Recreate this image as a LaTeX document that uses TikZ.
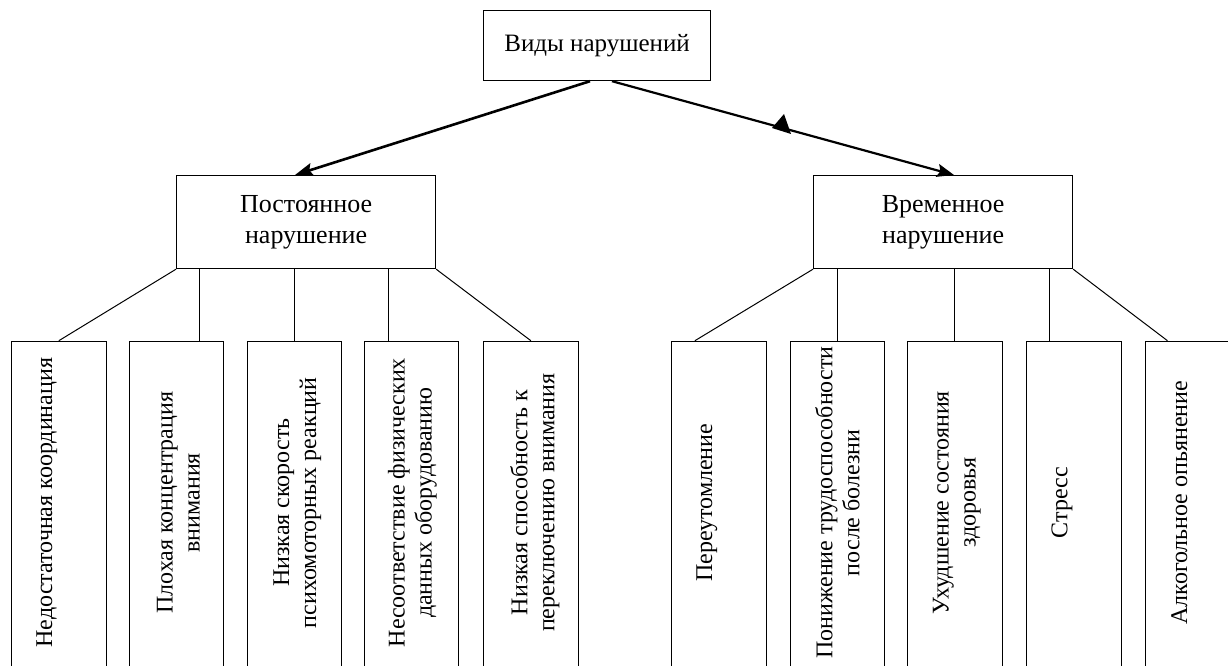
\documentclass[tikz,border=0pt]{standalone}
\usepackage{fontspec}
\setmainfont{Liberation Serif}
\usetikzlibrary{arrows.meta,calc}
\begin{document}
\begin{tikzpicture}[x=1pt,y=-1pt,
  box/.style={draw, line width=1.2pt, inner sep=0pt, anchor=north west},
  midbox/.style={box, minimum width=259pt, minimum height=93pt, align=center, font=\fontsize{26}{31}\selectfont},
  leaf/.style={box, minimum width=94.5pt, minimum height=345pt},
  leaftext/.style={rotate=90, align=center, inner sep=0pt, font=\fontsize{24}{27}\selectfont},
  conn/.style={line width=1pt},
  bigarrow/.style={line width=2.6pt, -{Stealth[length=18pt,width=13pt,inset=3pt]}},
  medarrow/.style={line width=2.2pt, -{Stealth[length=17pt,width=13pt,inset=3pt]}}
]
\useasboundingbox (0,0) rectangle (1228,666);
\clip (0,0) rectangle (1228,666);
\fill[white] (0,0) rectangle (1228,666);

% top
\node[box, minimum width=227pt, minimum height=70pt, font=\fontsize{25}{30}\selectfont] (top) at (483,10) {Виды нарушений};

% middle
\node[midbox] (perm) at (176,175) {Постоянное\\нарушение};
\node[midbox] (temp) at (813,175) {Временное\\нарушение};

% arrows
\draw[bigarrow] ($(top.south west)+(107,0)$) -- ($(perm.north west)+(119,0)$);
\draw[medarrow] ($(top.south west)+(129,0)$) -- ($(temp.north west)+(141,0)$);
\fill (784,114) -- (772,128) -- (791,134) -- cycle;

% leaves
\foreach \n/\x in {b1/11, b2/128.5, b3/246.5, b4/363.5, b5/483, b6/671, b7/789.5, b8/907, b9/1026, b10/1144.5}
  \node[leaf] (\n) at (\x,340.7) {};

% leaf texts
\node[leaftext] (t1) at ($(b1.north)+(-12,162)$) {Недостаточная координация};
\node[leaftext] (t2) at ($(b2.north)+(2,162)$) {Плохая концентрация\\внимания};
\node[leaftext] (t3) at ($(b3.north)+(3,162)$) {Низкая скорость\\психомоторных реакций};
\node[leaftext] (t4) at ($(b4.north)+(1,162)$) {Несоответствие физических\\данных оборудованию};
\node[leaftext] (t5) at ($(b5.north)+(4,162)$) {Низкая способность к\\переключению внимания};
\node[leaftext] (t6) at ($(b6.north)+(-12,162)$) {Переутомление};
\node[leaftext] (t7) at ($(b7.north)+(0,162)$) {Понижение трудоспособности\\после болезни};
\node[leaftext] (t8) at ($(b8.north)+(2,162)$) {Ухудшение состояния\\здоровья};
\node[leaftext] (t9) at ($(b9.north)+(-12,162)$) {Стресс};
\node[leaftext] (t10) at ($(b10.north)+(-13,162)$) {Алкогольное опьянение};

% connectors left
\draw[conn] (perm.south west) -- (b1.north);
\coordinate (p2) at ($(perm.south west)+(23.3,0)$);
\coordinate (p3) at ($(perm.south west)+(118,0)$);
\coordinate (p4) at ($(perm.south west)+(212.5,0)$);
\draw[conn] (p2) -- (p2 |- b2.north);
\draw[conn] (p3) -- (p3 |- b3.north);
\draw[conn] (p4) -- (p4 |- b4.north);
\draw[conn] (perm.south east) -- (b5.north);

% connectors right
\draw[conn] (temp.south west) -- ($(b6.north west)!0.25!(b6.north east)$);
\coordinate (q2) at ($(temp.south west)+(24,0)$);
\coordinate (q3) at ($(temp.south west)+(141,0)$);
\coordinate (q4) at ($(temp.south west)+(236.5,0)$);
\draw[conn] (q2) -- (q2 |- b7.north);
\draw[conn] (q3) -- (q3 |- b8.north);
\draw[conn] (q4) -- (q4 |- b9.north);
\draw[conn] (temp.south east) -- ($(b10.north west)!0.24!(b10.north east)$);
\end{tikzpicture}
\end{document}
